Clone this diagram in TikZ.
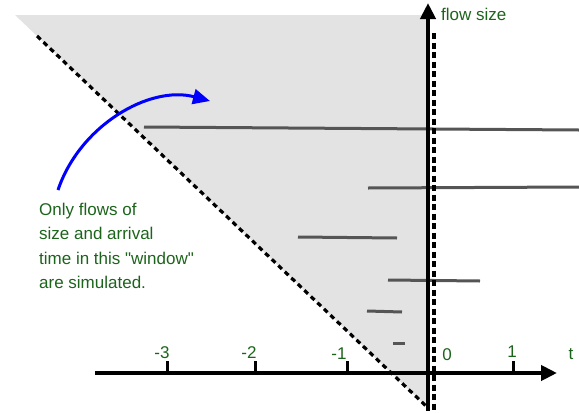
\documentclass[tikz,border=0pt]{standalone}
\usepackage{fontspec}
\setmainfont{Liberation Sans}[Ligatures=TeXOff]
\usetikzlibrary{arrows.meta}
\definecolor{txtgreen}{RGB}{28,100,28}
\definecolor{winfill}{RGB}{227,227,227}
\definecolor{flowgray}{RGB}{85,85,85}
\tikzset{
  lbl/.style={text=txtgreen, font=\fontsize{17}{24.5}\selectfont, inner sep=0pt},
  flowline/.style={draw=flowgray, line width=3pt},
  axisline/.style={line width=4pt, -{Triangle[length=16pt,width=15pt]}},
  tickmark/.style={line width=3pt},
  dashdiag/.style={line width=3.2pt, dash pattern=on 5pt off 4pt},
  dashvert/.style={line width=3.2pt, dash pattern=on 6pt off 3.5pt},
}
\begin{document}
\begin{tikzpicture}[x=1pt,y=-1pt]
\useasboundingbox (0,0) rectangle (579,413);
% window
\fill[winfill] (15,15) -- (428,15) -- (428,408) -- cycle;
% flows
\draw[flowline] (144,127) -- (579,130);
\draw[flowline] (368,188) -- (579,187);
\draw[flowline] (298,237) -- (397,238);
\draw[flowline] (388,280) -- (480,281);
\draw[flowline] (367,311) -- (402,312);
\draw[flowline] (393,343) -- (405,343);
% dashed boundaries
\coordinate (d1) at (37,36);
\coordinate (d2) at (426,406);
\draw[dashdiag] (d1) -- (d2);
\coordinate (v1) at (434,33);
\coordinate (v2) at (434,411);
\draw[dashvert] (v1) -- (v2);
% axes
\coordinate (xs) at (95,373);
\coordinate (xe) at (557,373);
\coordinate (ys) at (428,411);
\coordinate (ye) at (428,3);
\draw[axisline] (xs) -- (xe);
\draw[axisline] (ys) -- (ye);
% ticks
\foreach \x in {167,255,347,513} \draw[tickmark] (\x,373) -- (\x,361);
\node[lbl] (lm3) at (162,353) {-3};
\node[lbl] (lm2) at (249,353) {-2};
\node[lbl] (lm1) at (339,354) {-1};
\node[lbl] (l0) at (447,355) {0};
\node[lbl] (l1) at (512,352) {1};
\node[lbl] (lt) at (571,354) {t};
\node[lbl, anchor=west] (fs) at (441,14) {flow size};
% note
\node[lbl, anchor=north west, align=left] (note) at (39,202.5)
  {Only flows of\\size and arrival\\time in this "window"\\are simulated.};
% blue arrow
\coordinate (bs) at (58,190);
\coordinate (be) at (210,101);
\draw[blue, line width=3pt, -{Triangle[length=17pt,width=15pt]}]
  (bs) .. controls (80,125) and (150,85) .. (be);
\end{tikzpicture}
\end{document}
